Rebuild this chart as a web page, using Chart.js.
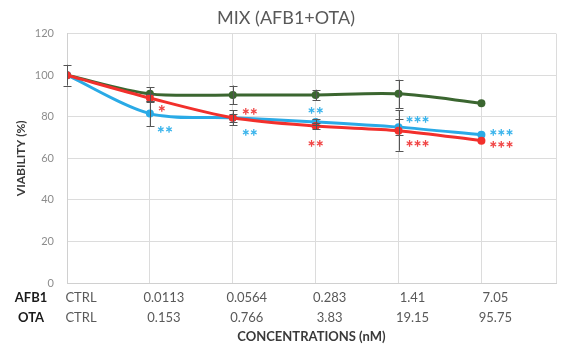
<!DOCTYPE html>
<html>
<head>
<meta charset="utf-8">
<script src="https://cdn.jsdelivr.net/npm/chart.js@4/dist/chart.umd.min.js"></script>
<style>
  html, body { margin: 0; padding: 0; background: #ffffff; }
  #wrap { width: 561px; height: 345px; }
</style>
</head>
<body>
<div id="wrap"><canvas id="chart" width="561" height="345"></canvas></div>
<script>
// Concentration table shown under the x axis
const afb1Labels = ['CTRL', '0.0113', '0.0564', '0.283', '1.41', '7.05'];
const otaLabels  = ['CTRL', '0.153', '0.766', '3.83', '19.15', '95.75'];

// Viability (%) per concentration step
const afb1Values = [100, 81.5, 79.5, 77.5, 75, 71.3];   // blue
const otaValues  = [100, 89, 79.5, 75.5, 73.3, 68.5];   // red
const mixValues  = [100, 91, 90.5, 90.5, 91, 86.5];     // green

// Standard deviations
const afb1Err = [0, 6, 2, 1.5, 4, 0];
const otaErr  = [0, 2, 3.5, 1.5, 9.7, 0];
const mixErr  = [5, 3.3, 4.5, 2.5, 6.8, 0];

// Significance marks
const afb1Sig = ['', '**', '**', '**', '***', '***'];
const otaSig  = ['', '*', '**', '**', '***', '***'];

const yTicks = [0, 20, 40, 60, 80, 100, 120];

const FONT = 'Lato, "Open Sans", "Liberation Sans", sans-serif';

const toPoints = vals => vals.map((v, i) => ({ x: i, y: v }));

// where each significance string sits relative to its point (px)
const sigPlacement = {
  afb1: [null, [15, 15], [17, 14], [0, -12], [19, -8], [20, -3]],
  ota:  [null, [12, 10], [17, -7], [0, 17], [19, 12], [20, 3]]
};

const errorBars = {
  id: 'errorBars',
  afterDatasetsDraw(chart) {
    const ctx = chart.ctx;
    const ys = chart.scales.y;
    ctx.save();
    ctx.strokeStyle = '#555555';
    ctx.lineWidth = 1;
    chart.data.datasets.forEach((ds, di) => {
      const meta = chart.getDatasetMeta(di);
      ds.errors.forEach((e, i) => {
        if (!e) return;
        const pt = meta.data[i];
        const v = ds.data[i].y;
        const top = ys.getPixelForValue(v + e);
        const bot = ys.getPixelForValue(v - e);
        const x = Math.round(pt.x) + 0.5;
        ctx.beginPath();
        ctx.moveTo(x, top); ctx.lineTo(x, bot);
        ctx.moveTo(x - 4, Math.round(top) + 0.5); ctx.lineTo(x + 4, Math.round(top) + 0.5);
        ctx.moveTo(x - 4, Math.round(bot) + 0.5); ctx.lineTo(x + 4, Math.round(bot) + 0.5);
        ctx.stroke();
      });
    });
    ctx.restore();
  }
};

const sigMarks = {
  id: 'sigMarks',
  afterDatasetsDraw(chart) {
    const ctx = chart.ctx;
    ctx.save();
    ctx.font = '900 19px ' + FONT;
    ctx.textAlign = 'center';
    ctx.textBaseline = 'middle';
    chart.data.datasets.forEach((ds, di) => {
      if (!ds.sig) return;
      const meta = chart.getDatasetMeta(di);
      const place = sigPlacement[ds.key];
      ctx.fillStyle = ds.sigColor;
      ds.sig.forEach((s, i) => {
        if (!s) return;
        const pt = meta.data[i];
        const [dx, dy] = place[i];
        ctx.fillText(s, pt.x + dx, pt.y + dy + 5);
      });
    });
    ctx.restore();
  }
};

// bold row headers in front of the concentration table
const rowHeaders = {
  id: 'rowHeaders',
  afterDraw(chart) {
    const xs = chart.scales.x;
    const ctx = chart.ctx;
    ctx.save();
    ctx.font = 'bold 13px ' + FONT;
    ctx.fillStyle = '#1a1a1a';
    ctx.textAlign = 'center';
    ctx.textBaseline = 'middle';
    ctx.fillText('AFB1', 31, xs.top + 15);
    ctx.fillText('OTA', 31, xs.top + 35);
    ctx.restore();
  }
};

new Chart(document.getElementById('chart'), {
  type: 'line',
  data: {
    datasets: [
      {
        key: 'ota', data: toPoints(otaValues), errors: otaErr, sig: otaSig, sigColor: '#f04646',
        borderColor: '#f2302c', backgroundColor: '#f2302c'
      },
      {
        key: 'afb1', data: toPoints(afb1Values), errors: afb1Err, sig: afb1Sig, sigColor: '#3ab4ec',
        borderColor: '#2aaae6', backgroundColor: '#2aaae6'
      },
      {
        key: 'mix', data: toPoints(mixValues), errors: mixErr,
        borderColor: '#3b6630', backgroundColor: '#3b6630'
      }
    ]
  },
  options: {
    responsive: false,
    animation: false,
    layout: { padding: { left: 15, right: 4, top: 0, bottom: 0 } },
    elements: {
      line: { borderWidth: 3, tension: 0.3, cubicInterpolationMode: 'default' },
      point: { radius: 4, borderWidth: 0, hoverRadius: 4 }
    },
    plugins: {
      legend: { display: false },
      tooltip: { enabled: false },
      title: {
        display: true,
        text: 'MIX (AFB1+OTA)',
        color: '#595959',
        font: { family: FONT, size: 18, weight: 'normal' },
        padding: { top: 7, bottom: 5 }
      }
    },
    scales: {
      x: {
        type: 'linear',
        min: 0,
        max: 5.9,
        afterBuildTicks(scale) {
          scale.ticks = afb1Labels.map((_, i) => ({ value: i })).concat({ value: scale.max });
        },
        afterFit(scale) { scale.height = 62; },
        grid: { color: '#dcdcdc', drawTicks: false },
        border: { color: '#d0d0d0' },
        ticks: {
          padding: 5,
          labelOffset: 14,
          maxRotation: 0,
          autoSkip: false,
          color: '#595959',
          font: { family: FONT, size: 13, lineHeight: 1.54 },
          callback(value, index) {
            return index < afb1Labels.length ? [afb1Labels[index], otaLabels[index]] : '';
          }
        },
        title: {
          display: true,
          text: 'CONCENTRATIONS (nM)',
          color: '#3a3a3a',
          font: { family: FONT, size: 13, weight: 'bold' },
          padding: { top: 0, bottom: 0 }
        }
      },
      y: {
        min: 0,
        max: 120,
        afterBuildTicks(scale) { scale.ticks = yTicks.map(v => ({ value: v })); },
        afterFit(scale) { scale.width = 52; },
        grid: { color: '#dcdcdc', drawTicks: false },
        border: { color: '#d0d0d0' },
        ticks: {
          padding: 13,
          color: '#8c8c8c',
          font: { family: FONT, size: 11 }
        },
        title: {
          display: true,
          text: 'VIABILITY (%)',
          color: '#3a3a3a',
          font: { family: FONT, size: 12, weight: 'bold', lineHeight: 1 },
          padding: { top: 0, bottom: 0 }
        }
      }
    }
  },
  plugins: [errorBars, sigMarks, rowHeaders]
});
</script>
</body>
</html>
